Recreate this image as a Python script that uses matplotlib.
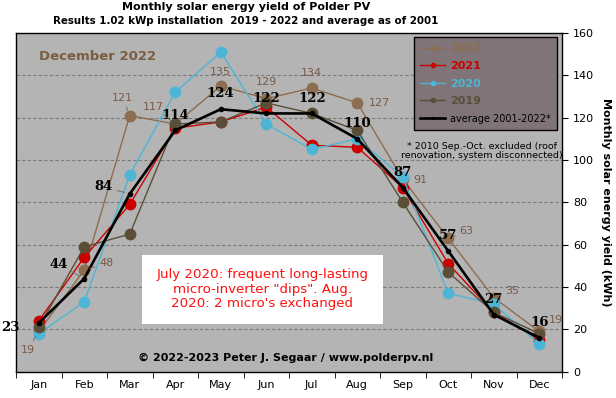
import matplotlib
matplotlib.use("Agg")
import matplotlib.pyplot as plt
from matplotlib.patches import Rectangle
import numpy as np

months = ["Jan", "Feb", "Mar", "Apr", "May", "Jun", "Jul", "Aug", "Sep", "Oct", "Nov", "Dec"]
y2022 = [19, 48, 121, 117, 135, 129, 134, 127, 91, 63, 35, 19]
y2021 = [24, 54, 79, 115, 118, 125, 107, 106, 87, 51, 28, 15]
y2020 = [18, 33, 93, 132, 151, 117, 105, 110, 92, 37, 32, 13]
y2019 = [21, 59, 65, 117, 118, 127, 122, 114, 80, 47, 28, 18]
avg = [23, 44, 84, 114, 124, 122, 122, 110, 87, 57, 27, 16]

C22 = "#8C6D50"
C21 = "#CC0000"
C20 = "#4DB6D6"
C19 = "#5A4E38"
LEAD = dict(arrowstyle="-", color="#6E6E6E", lw=0.7, shrinkA=1, shrinkB=4)

fig = plt.figure(figsize=(6.16, 3.98), dpi=100)
fig.patch.set_facecolor("white")
ax = fig.add_axes([16/616, 1-371.7/398, 546/616, 338.7/398])
ax.set_facecolor("#B4B4B4")

x = np.arange(len(months))
ax.set_xlim(-0.5, 11.5)
ax.set_ylim(0, 160)

for yv in range(20, 160, 20):
    ax.axhline(yv, color="#7A7A7A", lw=0.8, ls=(0, (3, 2)), zorder=0.5)

ax.plot(x, y2022, color=C22, lw=1.0, marker="o", ms=7.5, zorder=2, label="2022")
ax.plot(x, y2021, color=C21, lw=1.0, marker="o", ms=7.5, zorder=2.1, label="2021")
ax.plot(x, y2020, color=C20, lw=1.0, marker="o", ms=7.5, zorder=2.2, label="2020")
ax.plot(x, y2019, color=C19, lw=1.0, marker="o", ms=7.5, zorder=2.3, label="2019")
ax.plot(x, avg, color="black", lw=1.9, marker="o", ms=3, zorder=3, label="average 2001-2022*")

# Average labels (offsets in points)
avg_off = {0: (-13.5, -3, "right"), 1: (-12, 10, "right"), 2: (-12, 5, "right")}
avg_lead = {1, 2}
for i, v in enumerate(avg):
    dx, dy, ha = avg_off.get(i, (0, 11, "center"))
    ax.annotate(str(v), (x[i], v), xytext=(dx, dy), textcoords="offset points",
                ha=ha, va="center", fontsize=9.5, fontweight="bold",
                family="DejaVu Serif", color="black", zorder=5,
                arrowprops=LEAD if i in avg_lead else None)

# 2022 labels
lab22 = {
    0: (-8, -13), 1: (16, 5), 2: (-5, 12.6), 3: (-16, 12.5),
    4: (0, 10), 5: (0.5, 12), 6: (0, 10.5), 7: (16, 0),
    8: (13, -1), 9: (13, 5), 10: (13, 5), 11: (12, 8),
}
lead22 = {0, 1, 2, 3, 9, 10}
for i, v in enumerate(y2022):
    dx, dy = lab22[i]
    ax.annotate(str(v), (x[i], v), xytext=(dx, dy), textcoords="offset points",
                ha="center", va="center", fontsize=8, color="#7A5A48", zorder=5,
                arrowprops=LEAD if i in lead22 else None)

ax.set_xticks(x)
ax.set_xticklabels(months, fontsize=8)
ax.set_xticks(np.arange(-0.5, 12, 1), minor=True)
ax.tick_params(axis="x", which="major", length=0, pad=6)
ax.tick_params(axis="x", which="minor", length=4, direction="out", color="black")

ax.yaxis.tick_right()
ax.yaxis.set_label_position("right")
ax.set_yticks(range(0, 161, 20))
ax.tick_params(axis="y", labelsize=8, length=4, direction="out", pad=4)
ax.set_ylabel("Monthly solar energy yield (kWh)", fontsize=8, fontweight="bold",
              rotation=270, labelpad=12)

for s in ax.spines.values():
    s.set_color("black")
    s.set_linewidth(1.0)

leg = ax.legend(loc="upper right", bbox_to_anchor=(0.9908, 0.9873), borderaxespad=0,
                frameon=True, fancybox=False, facecolor="#807478", edgecolor="black",
                framealpha=1, prop={"size": 8, "weight": "bold"}, handlelength=2.25,
                labelspacing=0.68, borderpad=0.55, handletextpad=0.45, markerscale=0.4)
leg.get_frame().set_linewidth(1.0)
for txt, col in zip(leg.get_texts(), [C22, C21, C20, C19, "black"]):
    txt.set_color(col)
leg.get_texts()[-1].set_fontweight("normal")
leg.get_texts()[-1].set_fontsize(7)
leg.set_zorder(6)

ax.text(0.042, 0.93, "December 2022", transform=ax.transAxes, fontsize=9.5,
        fontweight="bold", color="#7A5E40", ha="left", va="center")

ax.text(0.853, 0.652, "* 2010 Sep.-Oct. excluded (roof\nrenovation, system disconnected)",
        transform=ax.transAxes, fontsize=6.8, color="black", ha="center", va="center",
        linespacing=1.1)

ax.add_patch(Rectangle((0.2308, 0.141), 0.672-0.2308, 0.3446-0.141, transform=ax.transAxes,
                       facecolor="white", edgecolor="none", zorder=5.5))
ax.text(0.451, 0.243, 'July 2020: frequent long-lasting\nmicro-inverter "dips". Aug.\n2020: 2 micro\'s exchanged',
        transform=ax.transAxes, fontsize=9.6, color="#FF1010", ha="center", va="center",
        linespacing=1.15, zorder=6)

ax.text(0.494, 0.04, "\u00a9 2022-2023 Peter J. Segaar / www.polderpv.nl", transform=ax.transAxes,
        fontsize=8, fontweight="bold", color="black", ha="center", va="center", zorder=6)

fig.text(246/616, 1-7.5/398, "Monthly solar energy yield of Polder PV", fontsize=8,
         fontweight="bold", ha="center", va="center")
fig.text(246/616, 1-21/398, "Results 1.02 kWp installation  2019 - 2022 and average as of 2001",
         fontsize=7.4, fontweight="bold", ha="center", va="center")

fig.savefig("out.png", dpi=100, facecolor="white")
